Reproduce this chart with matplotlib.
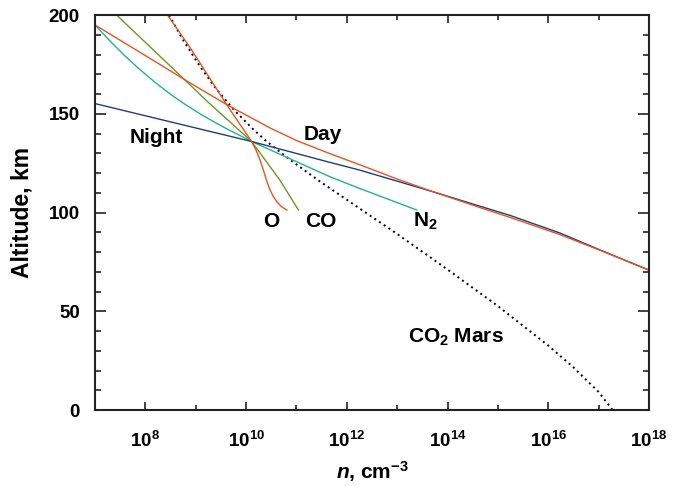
import numpy as np
import matplotlib
matplotlib.use("Agg")
import matplotlib.pyplot as plt
from matplotlib.ticker import FixedLocator, FixedFormatter, NullFormatter

plt.rcParams["font.family"] = ["Liberation Sans", "DejaVu Sans"]
plt.rcParams["font.weight"] = "bold"
plt.rcParams["mathtext.fontset"] = "custom"
plt.rcParams["mathtext.rm"] = "Liberation Sans:bold"
plt.rcParams["mathtext.it"] = "Liberation Sans:bold:italic"
plt.rcParams["mathtext.bf"] = "Liberation Sans:bold"
plt.rcParams["mathtext.default"] = "rm"

# Altitude (km) versus log10 of number density (cm^-3)
night_alt = [155.2, 136.0, 125.4, 121.5, 110.5, 103.2, 98.6, 89.6, 81.4, 70.9]
night_logn = [7.0, 10.11, 11.67, 12.26, 13.72, 14.65, 15.24, 16.24, 17.0, 18.0]

day_alt = [195.0, 179.5, 165.6, 154.6, 142.8, 136.5, 129.8, 124.2, 117.0, 110.5,
           102.5, 97.6, 88.8, 81.2, 70.9]
day_logn = [7.0, 8.0, 8.89, 9.62, 10.48, 11.0, 11.67, 12.26, 13.0, 13.72,
            14.65, 15.24, 16.24, 17.0, 18.0]

o_alt = [200.0, 183.5, 154.4, 136.0, 131.5, 126.5, 121.0, 116.0, 111.8, 108.2,
         105.2, 102.9, 101.3]
o_logn = [8.44, 8.89, 9.62, 10.11, 10.20, 10.28, 10.35, 10.41, 10.47, 10.54,
          10.62, 10.71, 10.81]

co_alt = [200.0, 164.6, 156.5, 136.0, 116.5, 101.3]
co_logn = [7.43, 8.89, 9.22, 10.11, 10.67, 11.04]

n2_alt = [195.0, 186.8, 179.2, 172.2, 165.8, 159.9, 154.6, 149.8, 145.4, 141.3,
          136.0, 118.1, 112.2, 101.3]
n2_logn = [7.0, 7.3, 7.6, 7.9, 8.2, 8.5, 8.8, 9.1, 9.4, 9.7,
           10.11, 11.67, 12.26, 13.39]

co2_alt = [200.0, 187.4, 173.8, 162.2, 152.3, 142.2, 136.0, 126.8, 115.7, 111.2,
           102.0, 89.2, 71.2, 52.7, 32.7, 21.7, 9.2, 0.0]
co2_logn = [8.47, 8.75, 9.09, 9.42, 9.75, 10.14, 10.41, 10.87, 11.47, 11.73,
            12.26, 13.0, 14.0, 15.0, 16.0, 16.5, 17.0, 17.28]

major_exp = [8, 10, 12, 14, 16, 18]
minor_exp = [9, 11, 13, 15, 17]
tick_labels = [r"$10^{%d}$" % e for e in major_exp]

c_red = "#e8531f"
c_navy = "#1f3c7c"
c_olive = "#6a9a1f"
c_teal = "#1fb48e"

fig = plt.figure(figsize=(6.81, 4.86), dpi=100)
ax = fig.add_axes([0.1395, 0.156, 0.8135, 0.813])

def dens(v):
    return 10.0 ** np.asarray(v)

ax.plot(dens(co2_logn), co2_alt, color="black", lw=1.4, ls=(0, (1, 1.9)))
ax.plot(dens(n2_logn), n2_alt, color=c_teal, lw=1.0)
ax.plot(dens(co_logn), co_alt, color=c_olive, lw=1.0)
ax.plot(dens(night_logn), night_alt, color=c_navy, lw=1.0)
ax.plot(dens(day_logn), day_alt, color=c_red, lw=1.0)
ax.plot(dens(o_logn), o_alt, color=c_red, lw=1.0)

ax.set_xscale("log")
ax.set_xlim(1e7, 1e18)
ax.set_ylim(0, 200)

ax.xaxis.set_major_locator(FixedLocator(dens(major_exp)))
ax.xaxis.set_major_formatter(FixedFormatter(tick_labels))
ax.xaxis.set_minor_locator(FixedLocator(dens(minor_exp)))
ax.xaxis.set_minor_formatter(NullFormatter())
ax.set_yticks([0, 50, 100, 150, 200])
ax.set_yticks(np.arange(0, 201, 10), minor=True)

ax.tick_params(which="both", direction="in", top=True, right=True,
               labelsize=13.5, width=1.2, color="#222222")
ax.tick_params(axis="y", which="major", length=8, pad=11)
ax.tick_params(axis="y", which="minor", length=4.3)
ax.tick_params(axis="x", which="major", length=6, pad=15)
ax.tick_params(axis="x", which="minor", length=3.6)

for s in ax.spines.values():
    s.set_linewidth(1.5)
    s.set_color("#222222")

ax.set_ylabel("Altitude, km", fontsize=16.5, fontweight="bold", labelpad=11)
ax.set_xlabel(r"$\mathit{n}$, cm$^{-3}$", fontsize=15, fontweight="bold", labelpad=6)

lab = dict(fontsize=15, fontweight="bold", ha="left", va="baseline")
ax.text(10 ** 7.695, 135.0, "Night", **lab)
ax.text(10 ** 11.14, 137.0, "Day", **lab)
ax.text(10 ** 10.34, 92.8, "O", **lab)
ax.text(10 ** 11.17, 92.8, "CO", **lab)
ax.text(10 ** 13.32, 92.8, r"N$_2$", **lab)
ax.text(10 ** 13.22, 34.1, r"CO$_2$ Mars", **lab)

fig.savefig("out.png", dpi=100)
